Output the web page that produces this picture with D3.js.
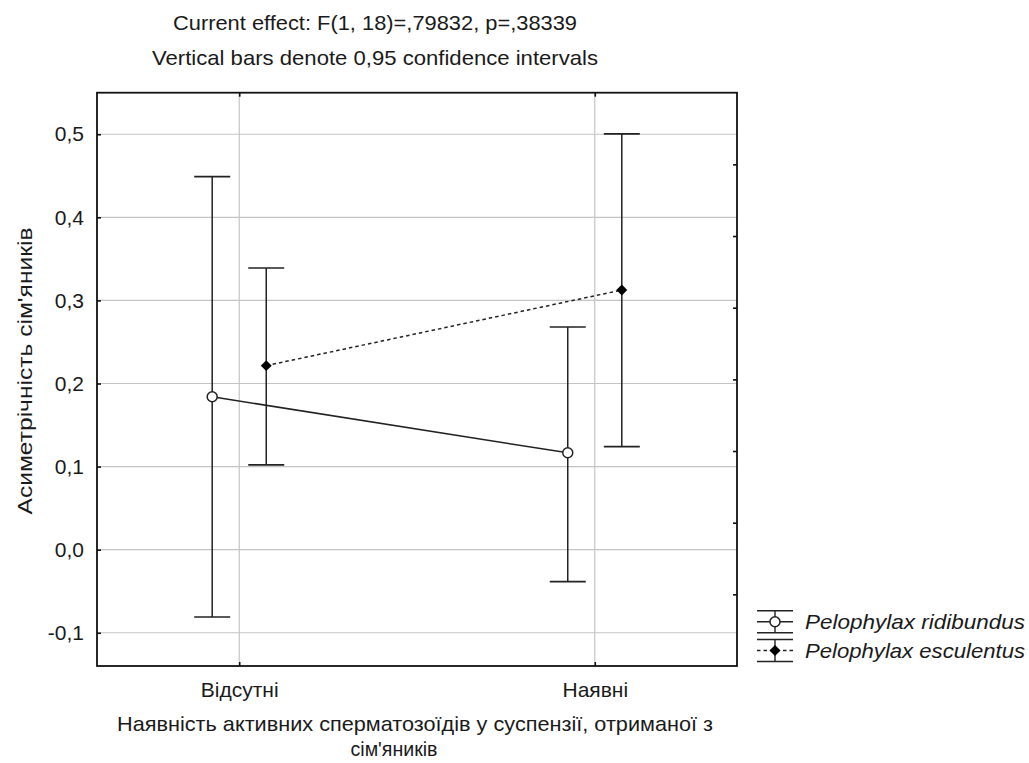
<!DOCTYPE html>
<html><head><meta charset="utf-8">
<script src="https://cdn.jsdelivr.net/npm/d3@7"></script>
<style>
body{margin:0;background:#fff}
svg{display:block}
text{font-family:"Liberation Sans",Arial,sans-serif;fill:#1a1a1a}
</style>
</head><body><svg id="c" width="1029" height="763"></svg>
<script>
// ---- data ----
const categories = ["Відсутні", "Наявні"];
const seriesNames = ["Pelophylax ridibundus", "Pelophylax esculentus"];
const ridibundusMean = [0.184, 0.1166];
const ridibundusLow  = [-0.081, -0.0385];
const ridibundusHigh = [0.449, 0.268];
const esculentusMean = [0.2215, 0.3125];
const esculentusLow  = [0.102, 0.124];
const esculentusHigh = [0.339, 0.5004];
const yTicks = [-0.1, 0.0, 0.1, 0.2, 0.3, 0.4, 0.5];
const titleLines = ["Current effect: F(1, 18)=,79832, p=,38339", "Vertical bars denote 0,95 confidence intervals"];
const xTitleLines = ["Наявність активних сперматозоїдів у суспензії, отриманої з", "сім'яників"];
const yTitle = "Асиметрічність сім'яників";

// ---- layout ----
const L = 97, R = 737, T = 92.7, B = 666;
const svg = d3.select("#c");
const x = d3.scaleLinear().domain([0.6, 2.4]).range([L, R]);
const y = d3.scaleLinear().domain([-0.14, 0.55]).range([B, T]);
const yR = d3.scaleLinear().domain([0, 8]).range([B, T]);
const fmt = d3.format(".1f");
const dark = "#222";

// gridlines
svg.append("g").selectAll("line").data(yTicks).join("line")
  .attr("x1", L).attr("x2", R).attr("y1", d => y(d)).attr("y2", d => y(d))
  .attr("stroke", "#c4c4c4").attr("stroke-width", 1.2);
svg.append("g").selectAll("line").data(categories).join("line")
  .attr("x1", (d, i) => x(i + 1)).attr("x2", (d, i) => x(i + 1)).attr("y1", T).attr("y2", B)
  .attr("stroke", "#c4c4c4").attr("stroke-width", 1.2);

// axes
const axL = svg.append("g").attr("transform", `translate(${L},0)`)
  .call(d3.axisLeft(y).tickValues(yTicks).tickSize(-4).tickPadding(13)
    .tickFormat(d => fmt(d).replace(".", ",").replace("\u2212", "-")));
const axB = svg.append("g").attr("transform", `translate(0,${B})`)
  .call(d3.axisBottom(x).tickValues([1, 2]).tickSize(-4).tickPadding(16).tickFormat(d => categories[d - 1]));
const axT = svg.append("g").attr("transform", `translate(0,${T})`)
  .call(d3.axisTop(x).tickValues([1, 2]).tickSize(-4).tickFormat(""));
const axR = svg.append("g").attr("transform", `translate(${R},0)`)
  .call(d3.axisRight(yR).tickValues([1, 2, 3, 4, 5, 6, 7]).tickSize(-4).tickFormat(""));
[axL, axB, axT, axR].forEach(g => {
  g.select(".domain").remove();
  g.selectAll(".tick line").attr("stroke", "#111").attr("stroke-width", 1.6);
  g.selectAll("text").attr("font-size", 21).attr("fill", "#1a1a1a").attr("font-family", "Liberation Sans, Arial, sans-serif");
});

// frame
svg.append("rect").attr("x", L).attr("y", T).attr("width", R - L).attr("height", B - T)
  .attr("fill", "none").attr("stroke", "#111").attr("stroke-width", 1.8);

// series
const series = [
  {name: seriesNames[0], mean: ridibundusMean, lo: ridibundusLow, hi: ridibundusHigh, off: -0.076, dash: null, marker: "circle"},
  {name: seriesNames[1], mean: esculentusMean, lo: esculentusLow, hi: esculentusHigh, off: 0.076, dash: "3.5,3", marker: "diamond"}
];
const capW = 18;
const line = d3.line();
series.forEach(s => {
  const g = svg.append("g");
  const pts = s.mean.map((m, i) => [x(i + 1 + s.off), y(m)]);
  s.mean.forEach((m, i) => {
    const cx = x(i + 1 + s.off);
    g.append("line").attr("x1", cx).attr("x2", cx).attr("y1", y(s.lo[i])).attr("y2", y(s.hi[i])).attr("stroke", dark).attr("stroke-width", 1.5);
    [s.lo[i], s.hi[i]].forEach(v => g.append("line").attr("x1", cx - capW).attr("x2", cx + capW).attr("y1", y(v)).attr("y2", y(v)).attr("stroke", dark).attr("stroke-width", 1.7));
  });
  g.append("path").attr("d", line(pts)).attr("fill", "none").attr("stroke", dark).attr("stroke-width", 1.5)
    .attr("stroke-dasharray", s.dash);
  pts.forEach(p => drawMarker(g, s.marker, p[0], p[1]));
});

function drawMarker(g, type, cx, cy) {
  if (type === "circle") {
    g.append("circle").attr("cx", cx).attr("cy", cy).attr("r", 5).attr("fill", "#fff").attr("stroke", dark).attr("stroke-width", 1.5);
  } else {
    g.append("path").attr("d", d3.symbol(d3.symbolSquare, 60)()).attr("transform", `translate(${cx},${cy}) rotate(45)`).attr("fill", "#000");
  }
}

// legend
const legRows = [621.7, 650.5];
series.forEach((s, i) => {
  const g = svg.append("g");
  const cx = 775, cy = legRows[i];
  g.append("line").attr("x1", cx).attr("x2", cx).attr("y1", cy - 11).attr("y2", cy + 11).attr("stroke", dark).attr("stroke-width", 1.4);
  [cy - 11, cy + 11].forEach(v => g.append("line").attr("x1", cx - 18).attr("x2", cx + 18).attr("y1", v).attr("y2", v).attr("stroke", dark).attr("stroke-width", 1.6));
  g.append("line").attr("x1", cx - 18).attr("x2", cx + 18).attr("y1", cy).attr("y2", cy).attr("stroke", dark).attr("stroke-width", 1.4).attr("stroke-dasharray", s.dash);
  drawMarker(g, s.marker, cx, cy);
  g.append("text").attr("x", 805).attr("y", cy + 7.5).attr("font-size", 21).attr("font-style", "italic")
    .attr("textLength", 220).attr("lengthAdjust", "spacingAndGlyphs").text(s.name);
});

// titles
const tw = [404, 446];
titleLines.forEach((t, i) => {
  svg.append("text").attr("x", 375).attr("y", 30 + i * 35).attr("text-anchor", "middle").attr("font-size", 21)
    .attr("textLength", tw[i]).attr("lengthAdjust", "spacingAndGlyphs").text(t);
});
const xw = [596, 87], xc = [415, 394];
xTitleLines.forEach((t, i) => {
  svg.append("text").attr("x", xc[i]).attr("y", 731 + i * 25).attr("text-anchor", "middle").attr("font-size", 21)
    .attr("textLength", xw[i]).attr("lengthAdjust", "spacingAndGlyphs").text(t);
});
svg.append("text").attr("transform", "translate(32,371) rotate(-90)").attr("text-anchor", "middle").attr("font-size", 21)
  .attr("textLength", 287).attr("lengthAdjust", "spacingAndGlyphs").text(yTitle);
</script>
</body></html>
